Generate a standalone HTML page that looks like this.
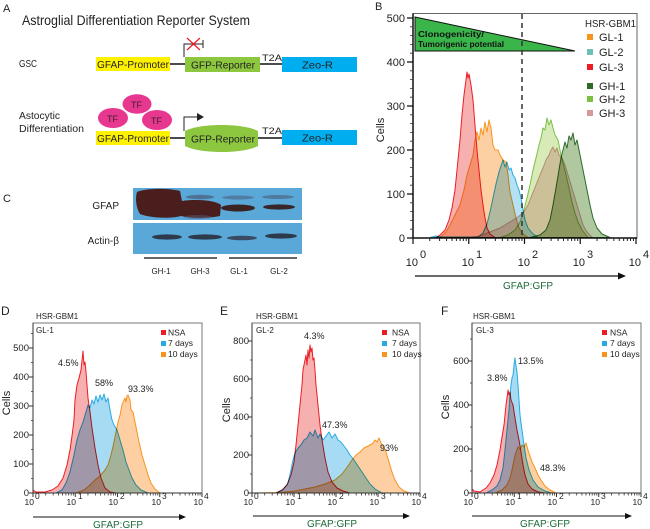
<!DOCTYPE html>
<html><head><meta charset="utf-8"><style>
html,body{margin:0;padding:0;background:#fff;}
svg{display:block;font-family:"Liberation Sans",sans-serif;}
.mb{mix-blend-mode:multiply;}
</style></head><body>
<svg width="650" height="529" viewBox="0 0 650 529" xmlns="http://www.w3.org/2000/svg">
<defs>
 <g id="mB" stroke="#222" stroke-width="1">
  <path d="M16.8,0v3M26.6,0v3M33.6,0v3M39,0v3M43.4,0v3M47.1,0v3M50.3,0v3M53.2,0v3"/>
 </g>
 <g id="mD" stroke="#333" stroke-width="0.8">
  <path d="M12.7,0v2.5M20.2,0v2.5M25.4,0v2.5M29.5,0v2.5M32.9,0v2.5M35.7,0v2.5M38.2,0v2.5M40.3,0v2.5"/>
 </g>
</defs>

<!-- ================= PANEL A ================= -->
<text x="3" y="12" font-size="11" fill="#222">A</text>
<text x="22" y="25" font-size="14" fill="#222" textLength="228" lengthAdjust="spacingAndGlyphs">Astroglial Differentiation Reporter System</text>

<text x="19" y="67" font-size="10" fill="#222" textLength="18" lengthAdjust="spacingAndGlyphs">GSC</text>
<line x1="170" y1="64" x2="185" y2="64" stroke="#111" stroke-width="1.5"/>
<line x1="260" y1="64" x2="283" y2="64" stroke="#111" stroke-width="1.5"/>
<rect x="96" y="57" width="74" height="14" fill="#fff200"/>
<text x="97" y="68" font-size="10.5" fill="#222" textLength="72" lengthAdjust="spacingAndGlyphs">GFAP-Promoter</text>
<rect x="185" y="57" width="75" height="15" fill="#8dc63f"/>
<text x="191" y="68.5" font-size="10.5" fill="#222" textLength="64" lengthAdjust="spacingAndGlyphs">GFP-Reporter</text>
<text x="262" y="61" font-size="9.5" fill="#222" textLength="20" lengthAdjust="spacingAndGlyphs">T2A</text>
<rect x="282" y="57" width="75" height="15" fill="#00aeef"/>
<text x="302" y="68.5" font-size="10.5" fill="#222" textLength="31" lengthAdjust="spacingAndGlyphs">Zeo-R</text>
<path d="M184,57V44H203M203,40V48" fill="none" stroke="#222" stroke-width="1"/>
<path d="M187,38L200,50M200,38L187,50" stroke="#ed1c24" stroke-width="1.2"/>

<text x="19" y="119" font-size="10" fill="#222" textLength="41" lengthAdjust="spacingAndGlyphs">Astocytic</text>
<text x="19" y="132" font-size="10" fill="#222" textLength="65" lengthAdjust="spacingAndGlyphs">Differentiation</text>
<ellipse cx="137" cy="104" rx="14.5" ry="9.8" fill="#e8378f"/>
<ellipse cx="113" cy="118" rx="15" ry="10" fill="#e8378f"/>
<ellipse cx="157" cy="120" rx="15" ry="10" fill="#e8378f"/>
<text x="131" y="108" font-size="9" fill="#3a2030">TF</text>
<text x="107" y="122" font-size="9" fill="#3a2030">TF</text>
<text x="151" y="124" font-size="9" fill="#3a2030">TF</text>
<line x1="170" y1="138" x2="185" y2="138" stroke="#111" stroke-width="1.5"/>
<line x1="258" y1="138" x2="283" y2="138" stroke="#111" stroke-width="1.5"/>
<rect x="96" y="131" width="74" height="14" fill="#fff200"/>
<text x="97" y="142" font-size="10.5" fill="#222" textLength="72" lengthAdjust="spacingAndGlyphs">GFAP-Promoter</text>
<path d="M185,131C200,123 243,123 258,131L258,146C243,154 200,154 185,146Z" fill="#8dc63f"/>
<text x="191" y="142.5" font-size="10.5" fill="#222" textLength="64" lengthAdjust="spacingAndGlyphs">GFP-Reporter</text>
<text x="262" y="134" font-size="9.5" fill="#222" textLength="20" lengthAdjust="spacingAndGlyphs">T2A</text>
<rect x="282" y="130" width="75" height="15" fill="#00aeef"/>
<text x="302" y="141.5" font-size="10.5" fill="#222" textLength="31" lengthAdjust="spacingAndGlyphs">Zeo-R</text>
<path d="M184,131V117H198" fill="none" stroke="#222" stroke-width="1"/>
<polygon points="197,113 204,117 197,121" fill="#222"/>

<!-- ================= PANEL C ================= -->
<text x="3" y="202" font-size="11" fill="#222">C</text>
<text x="119" y="209" font-size="10" fill="#222" text-anchor="end">GFAP</text>
<text x="119" y="244" font-size="10" fill="#222" text-anchor="end">Actin-β</text>
<rect x="133" y="188" width="169" height="32" fill="#5aa8d8"/>
<rect x="133" y="223" width="169" height="31" fill="#5aa8d8"/>
<ellipse cx="200" cy="197" rx="14" ry="2.2" fill="#4a5a78" opacity="0.7"/>
<ellipse cx="238" cy="197.5" rx="16" ry="2" fill="#4a5a78" opacity="0.55"/>
<ellipse cx="278" cy="197" rx="16" ry="2" fill="#4a5a78" opacity="0.6"/>
<path d="M137,192C145,188 170,188 180,191L182,201C195,199 215,200 221,205L220,216C205,219 190,218 181,216C170,219 150,218 140,214C136,208 135,198 137,192Z" fill="#4a1e1c"/>
<ellipse cx="198" cy="217" rx="14" ry="2" fill="#5a5a78" opacity="0.5"/>
<ellipse cx="238" cy="208" rx="17" ry="3.5" fill="#3a2320"/>
<ellipse cx="279" cy="207" rx="16" ry="2.6" fill="#3a2528"/>
<ellipse cx="167" cy="237" rx="15" ry="2.6" fill="#2c3a4c"/>
<ellipse cx="205" cy="237" rx="17" ry="2.6" fill="#2c3a4c"/>
<ellipse cx="242" cy="238" rx="15" ry="2.3" fill="#3a4a62"/>
<ellipse cx="281" cy="236" rx="16" ry="2.6" fill="#2c3a4c"/>
<line x1="144" y1="258" x2="217" y2="258" stroke="#333" stroke-width="1.5"/>
<line x1="229" y1="258" x2="297" y2="258" stroke="#333" stroke-width="1.5"/>
<g font-size="8" fill="#222" text-anchor="middle">
<text x="161" y="274">GH-1</text><text x="200" y="274">GH-3</text><text x="239" y="274">GL-1</text><text x="279" y="274">GL-2</text>
</g>

<!-- ================= PANEL B ================= -->
<text x="375" y="10" font-size="11" fill="#222">B</text>
<rect x="413" y="13.5" width="224" height="224.5" fill="none" stroke="#666" stroke-width="1"/>
<polygon points="415,17 415,51 575,51" fill="#39b54a" stroke="#111" stroke-width="1"/>
<text x="418" y="37" font-size="8" font-weight="bold" fill="#111" textLength="66" lengthAdjust="spacingAndGlyphs">Clonogenicity/</text>
<text x="418" y="47" font-size="8" font-weight="bold" fill="#111" textLength="86" lengthAdjust="spacingAndGlyphs">Tumorigenic potential</text>

<g stroke-linejoin="round" stroke-width="1">
<polygon class="mb" fill="#f6b0b0" stroke="#ed1c24" points="436,237.5 440,235 445,230 449,220 452,208 455,190 458,160 460,140 462,115 464,95 466,80 467,72 468,78 469,74 471,85 473,100 475,125 477,150 479,170 481,190 483,205 485,218 487,228 490,234 495,237.5"/>
<polygon class="mb" fill="#fdd0a4" stroke="#f7941d" points="440,237.5 446,232 450,225 455,215 460,205 464,190 467,175 470,165 473,155 475,140 477,132 479,140 481,128 483,135 485,122 487,132 489,120 491,128 493,145 495,150 498,150 500,155 503,160 506,162 508,175 510,192 513,205 516,218 519,228 523,234 528,237.5"/>
<polygon class="mb" fill="#b4e2f4" stroke="#27aae1" points="430,237.5 436,236 442,237 478,237 483,233 487,224 490,212 493,198 496,184 499,172 501,166 503,160 505,167 507,162 509,170 511,168 513,175 515,178 517,185 519,190 521,198 523,210 525,220 528,228 532,233 538,237.5"/>
<polygon class="mb" fill="#f0d2d2" stroke="#d49a9a" points="470,237.5 480,236 490,232 500,228 510,222 518,217 524,212 528,205 532,195 536,185 540,175 543,168 546,160 549,155 551,150 553,147 555,152 557,148 559,155 562,158 565,165 568,175 571,185 574,195 577,205 580,215 583,225 587,232 592,237.5"/>
<polygon class="mb" fill="#d8eab8" stroke="#7ac143" points="500,237.5 508,235 515,230 520,222 524,210 527,198 530,185 533,170 536,158 539,145 541,138 543,128 545,130 547,118 549,125 551,120 553,128 555,135 558,140 561,155 563,163 566,175 569,188 572,202 575,213 578,222 582,230 588,237.5"/>
<polygon class="mb" fill="#b0c8a0" stroke="#2d6a2a" points="530,237.5 540,235 546,230 550,220 553,205 556,188 559,170 561,158 563,150 565,142 567,148 569,136 571,140 573,133 575,145 577,140 579,150 581,160 584,175 587,190 590,205 593,218 597,228 602,234 610,237.5"/>
</g>
<line x1="522" y1="14" x2="522" y2="238" stroke="#333" stroke-width="1.5" stroke-dasharray="5,4"/>
<!-- B axes -->
<line x1="413" y1="13.5" x2="413" y2="238" stroke="#111" stroke-width="1.5"/>
<line x1="413" y1="238" x2="637" y2="238" stroke="#111" stroke-width="1.5"/>
<path d="M407,238h6M407,194h6M407,150h6M407,106h6M407,62h6M407,18h6" stroke="#111" stroke-width="1.2"/>
<path d="M410,229.2h3M410,220.4h3M410,211.6h3M410,202.8h3M410,185.2h3M410,176.4h3M410,167.6h3M410,158.8h3M410,141.2h3M410,132.4h3M410,123.6h3M410,114.8h3M410,97.2h3M410,88.4h3M410,79.6h3M410,70.8h3M410,53.2h3M410,44.4h3M410,35.6h3M410,26.8h3" stroke="#333" stroke-width="0.8"/>
<path d="M413,238v6M468.75,238v6M524.5,238v6M580.25,238v6M636,238v6" stroke="#111" stroke-width="1.2"/>
<use href="#mB" x="413" y="238"/><use href="#mB" x="468.75" y="238"/><use href="#mB" x="524.5" y="238"/><use href="#mB" x="580.25" y="238"/>
<g font-size="11" fill="#222" text-anchor="end">
<text x="405" y="242">0</text><text x="405" y="198">100</text><text x="405" y="154">200</text><text x="405" y="110">300</text><text x="405" y="66">400</text><text x="405" y="22">500</text>
</g>
<g font-size="11" fill="#222">
<text x="418" y="266" text-anchor="end">10</text><text x="420" y="258">0</text>
<text x="474" y="266" text-anchor="end">10</text><text x="476" y="258">1</text>
<text x="530" y="266" text-anchor="end">10</text><text x="532" y="258">2</text>
<text x="585" y="266" text-anchor="end">10</text><text x="587" y="258">3</text>
<text x="641" y="266" text-anchor="end">10</text><text x="643" y="258">4</text>
</g>
<text transform="translate(384,130) rotate(-90)" font-size="11" fill="#222" text-anchor="middle">Cells</text>
<line x1="415" y1="276" x2="620" y2="276" stroke="#111" stroke-width="1.2"/>
<polygon points="618,272.5 626,276 618,279.5" fill="#111"/>
<text x="528" y="289" font-size="10" fill="#1e6b3a" text-anchor="middle">GFAP:GFP</text>
<!-- B legend -->
<text x="585" y="27" font-size="10" fill="#222" textLength="51" lengthAdjust="spacingAndGlyphs">HSR-GBM1</text>
<rect x="587" y="34" width="6" height="6" fill="#f7941d"/>
<rect x="587" y="49" width="6" height="6" fill="#6dbfb8"/>
<rect x="587" y="64" width="6" height="6" fill="#ed1c24"/>
<rect x="587" y="83" width="6" height="6" fill="#2d6a2a"/>
<rect x="587" y="96" width="6" height="6" fill="#7ac143"/>
<rect x="587" y="110" width="6" height="6" fill="#d49a9a"/>
<g font-size="11" fill="#222">
<text x="599" y="41">GL-1</text><text x="599" y="56">GL-2</text><text x="599" y="71">GL-3</text>
<text x="599" y="90">GH-1</text><text x="599" y="103">GH-2</text><text x="599" y="117">GH-3</text>
</g>

<!-- ================= PANEL D ================= -->
<text x="1" y="315" font-size="12" fill="#222">D</text>
<text x="36" y="319" font-size="8" fill="#222">HSR-GBM1</text>
<rect x="33" y="323" width="169" height="170" fill="none" stroke="#777" stroke-width="1"/>
<text x="36" y="333" font-size="8" fill="#222">GL-1</text>
<g stroke-linejoin="round" stroke-width="1">
<polygon class="mb" fill="#f6b0b0" stroke="#ed1c24" points="33,490 36,492 45,492 52,490 58,486 63,478 67,465 70,450 72,436 74,420 75,400 77,385 79,378 81,370 82,360 83,351 84,365 85,362 86,372 87,385 88,398 90,412 92,428 95,448 98,465 101,478 105,488 110,492 116,493 33,493"/>
<polygon class="mb" fill="#a6dbf3" stroke="#27aae1" points="56,493 62,490 66,483 70,472 74,455 77,440 80,430 83,422 86,412 88,405 90,408 92,400 94,404 96,396 98,402 100,395 102,400 104,394 106,402 108,398 110,410 112,420 114,425 117,430 120,440 123,450 126,462 129,470 132,478 136,485 141,490 148,493"/>
<polygon class="mb" fill="#fdcfa2" stroke="#f7941d" points="76,493 84,490 90,485 95,480 100,476 105,470 108,465 111,455 114,442 116,432 118,422 120,415 122,405 124,400 125,398 126,402 127,396 128,395 130,400 131,410 133,412 135,422 137,432 139,442 142,455 145,465 148,475 151,483 155,489 160,493"/>
</g>
<line x1="33" y1="323" x2="33" y2="493" stroke="#333" stroke-width="1"/>
<line x1="33" y1="493" x2="202" y2="493" stroke="#333" stroke-width="1"/>
<path d="M29,493h4M29,464h4M29,435h4M29,406h4M29,377h4M29,348h4" stroke="#333" stroke-width="1"/>
<path d="M31,478.5h2M31,449.5h2M31,420.5h2M31,391.5h2M31,362.5h2M31,333.5h2" stroke="#333" stroke-width="0.8"/>
<path d="M33,493v4M75.25,493v4M117.5,493v4M159.75,493v4M202,493v4" stroke="#333" stroke-width="1"/>
<use href="#mD" x="33" y="493"/><use href="#mD" x="75.25" y="493"/><use href="#mD" x="117.5" y="493"/><use href="#mD" x="159.75" y="493"/>
<g font-size="9.5" fill="#222" text-anchor="end">
<text x="29" y="496">0</text><text x="29" y="467">100</text><text x="29" y="438">200</text><text x="29" y="409">300</text><text x="29" y="380">400</text><text x="29" y="351">500</text>
</g>
<g font-size="8.5" fill="#222">
<text x="34" y="505" text-anchor="end">10</text><text x="35" y="499">0</text>
<text x="76" y="505" text-anchor="end">10</text><text x="78" y="499">1</text>
<text x="118" y="505" text-anchor="end">10</text><text x="120" y="499">2</text>
<text x="161" y="505" text-anchor="end">10</text><text x="162" y="499">3</text>
<text x="203" y="505" text-anchor="end">10</text><text x="204" y="499">4</text>
</g>
<text transform="translate(10,403) rotate(-90)" font-size="11" fill="#222" text-anchor="middle">Cells</text>
<g font-size="9" fill="#222">
<text x="58" y="366">4.5%</text><text x="95" y="386">58%</text><text x="128" y="392">93.3%</text>
</g>
<rect x="161" y="330" width="5" height="5" fill="#ed1c24"/>
<rect x="161" y="341" width="5" height="5" fill="#27aae1"/>
<rect x="161" y="352" width="5" height="5" fill="#f7941d"/>
<g font-size="8.5" fill="#222"><text x="168" y="335.5">NSA</text><text x="168" y="346">7 days</text><text x="168" y="357">10 days</text></g>
<line x1="33" y1="517" x2="180" y2="517" stroke="#111" stroke-width="1"/>
<polygon points="179,514 186,517 179,520" fill="#111"/>
<text x="118" y="528" font-size="10" fill="#1e6b3a" text-anchor="middle">GFAP:GFP</text>

<!-- ================= PANEL E ================= -->
<text x="220" y="315" font-size="12" fill="#222">E</text>
<text x="256" y="319" font-size="8" fill="#222">HSR-GBM1</text>
<rect x="252" y="323" width="168" height="170" fill="none" stroke="#777" stroke-width="1"/>
<text x="256" y="333" font-size="8" fill="#222">GL-2</text>
<g stroke-linejoin="round" stroke-width="1">
<polygon class="mb" fill="#f6b0b0" stroke="#ed1c24" points="276,493 282,490 287,485 291,475 294,462 296,445 298,425 300,405 302,385 303,370 305,360 306,355 307,365 308,350 309,358 310,345 311,352 312,348 313,360 314,358 315,370 316,385 318,405 320,425 322,440 325,458 328,472 332,482 337,488 343,491 350,493"/>
<polygon class="mb" fill="#a6dbf3" stroke="#27aae1" points="276,493 283,490 288,483 291,470 293,460 295,453 298,448 301,445 304,440 307,438 310,432 313,436 315,430 318,438 320,434 323,440 326,436 329,432 332,438 335,434 338,440 341,442 344,446 347,450 350,455 354,460 358,466 362,472 366,478 370,484 375,489 382,493"/>
<polygon class="mb" fill="#fdcfa2" stroke="#f7941d" points="252,493 280,492.5 295,491 305,489 315,487 325,484 335,480 342,474 348,466 352,460 356,455 360,452 364,448 368,446 372,444 375,440 377,442 379,438 381,443 383,446 386,452 389,462 392,472 395,480 399,487 404,491 410,493"/>
</g>
<line x1="252" y1="323" x2="252" y2="493" stroke="#333" stroke-width="1"/>
<line x1="252" y1="493" x2="420" y2="493" stroke="#333" stroke-width="1"/>
<path d="M248,493h4M248,455h4M248,417h4M248,379h4M248,341h4" stroke="#333" stroke-width="1"/>
<path d="M250,474h2M250,436h2M250,398h2M250,360h2" stroke="#333" stroke-width="0.8"/>
<path d="M252,493v4M294,493v4M336,493v4M378,493v4M420,493v4" stroke="#333" stroke-width="1"/>
<use href="#mD" x="252" y="493"/><use href="#mD" x="294" y="493"/><use href="#mD" x="336" y="493"/><use href="#mD" x="378" y="493"/>
<g font-size="9.5" fill="#222" text-anchor="end">
<text x="249" y="496">0</text><text x="249" y="458">200</text><text x="249" y="420">400</text><text x="249" y="382">600</text><text x="249" y="344">800</text>
</g>
<g font-size="8.5" fill="#222">
<text x="253" y="505" text-anchor="end">10</text><text x="254" y="499">0</text>
<text x="295" y="505" text-anchor="end">10</text><text x="297" y="499">1</text>
<text x="337" y="505" text-anchor="end">10</text><text x="339" y="499">2</text>
<text x="379" y="505" text-anchor="end">10</text><text x="381" y="499">3</text>
<text x="421" y="505" text-anchor="end">10</text><text x="422" y="499">4</text>
</g>
<text transform="translate(230,410) rotate(-90)" font-size="11" fill="#222" text-anchor="middle">Cells</text>
<g font-size="9" fill="#222">
<text x="304" y="339">4.3%</text><text x="322" y="428">47.3%</text><text x="380" y="451">93%</text>
</g>
<rect x="382" y="330" width="5" height="5" fill="#ed1c24"/>
<rect x="382" y="341" width="5" height="5" fill="#27aae1"/>
<rect x="382" y="352" width="5" height="5" fill="#f7941d"/>
<g font-size="8.5" fill="#222"><text x="392" y="335.5">NSA</text><text x="392" y="346">7 days</text><text x="392" y="357">10 days</text></g>
<line x1="253" y1="516" x2="404" y2="516" stroke="#111" stroke-width="1"/>
<polygon points="403,513 410,516 403,519" fill="#111"/>
<text x="332" y="527" font-size="10" fill="#1e6b3a" text-anchor="middle">GFAP:GFP</text>

<!-- ================= PANEL F ================= -->
<text x="441" y="315" font-size="12" fill="#222">F</text>
<text x="473" y="319" font-size="8" fill="#222">HSR-GBM1</text>
<rect x="472" y="323" width="169" height="170" fill="none" stroke="#777" stroke-width="1"/>
<text x="476" y="333" font-size="8" fill="#222">GL-3</text>
<g stroke-linejoin="round" stroke-width="1">
<polygon class="mb" fill="#f6b0b0" stroke="#ed1c24" points="472,489 474,491 480,492 486,488 490,483 494,475 497,465 500,450 502,437 504,425 506,405 507,398 508,390 509,395 510,392 511,400 513,405 515,418 517,430 519,440 521,452 523,465 525,475 528,484 532,489 538,492 545,493 472,493"/>
<polygon class="mb" fill="#a6dbf3" stroke="#27aae1" points="486,493 492,490 497,486 500,480 503,468 505,450 507,430 509,410 510,395 511,385 512,378 513,375 514,365 515,358 516,366 517,372 518,385 519,400 520,415 522,430 524,445 526,458 529,470 533,480 538,487 545,491 552,493"/>
<polygon class="mb" fill="#fdcfa2" stroke="#f7941d" points="495,493 502,490 507,485 510,478 512,470 514,460 516,452 518,447 520,449 522,445 524,447 526,443 528,450 530,456 532,462 535,468 538,475 541,480 545,486 550,490 556,493 640,493"/>
</g>
<line x1="472" y1="323" x2="472" y2="493" stroke="#333" stroke-width="1"/>
<line x1="472" y1="493" x2="641" y2="493" stroke="#333" stroke-width="1"/>
<path d="M468,493h4M468,449h4M468,405h4M468,361h4" stroke="#333" stroke-width="1"/>
<path d="M470,471h2M470,427h2M470,383h2M470,339h2" stroke="#333" stroke-width="0.8"/>
<path d="M472,493v4M514.25,493v4M556.5,493v4M598.75,493v4M641,493v4" stroke="#333" stroke-width="1"/>
<use href="#mD" x="472" y="493"/><use href="#mD" x="514.25" y="493"/><use href="#mD" x="556.5" y="493"/><use href="#mD" x="598.75" y="493"/>
<g font-size="9.5" fill="#222" text-anchor="end">
<text x="469" y="496">0</text><text x="469" y="452">200</text><text x="469" y="408">400</text><text x="469" y="364">600</text>
</g>
<g font-size="8.5" fill="#222">
<text x="473" y="505" text-anchor="end">10</text><text x="474" y="499">0</text>
<text x="515" y="505" text-anchor="end">10</text><text x="517" y="499">1</text>
<text x="557" y="505" text-anchor="end">10</text><text x="559" y="499">2</text>
<text x="600" y="505" text-anchor="end">10</text><text x="601" y="499">3</text>
<text x="642" y="505" text-anchor="end">10</text><text x="643" y="499">4</text>
</g>
<text transform="translate(449,407) rotate(-90)" font-size="11" fill="#222" text-anchor="middle">Cells</text>
<g font-size="9" fill="#222">
<text x="487" y="381">3.8%</text><text x="518" y="364">13.5%</text><text x="540" y="471">48.3%</text>
</g>
<rect x="602" y="330" width="5" height="5" fill="#ed1c24"/>
<rect x="602" y="341" width="5" height="5" fill="#27aae1"/>
<rect x="602" y="352" width="5" height="5" fill="#f7941d"/>
<g font-size="8.5" fill="#222"><text x="610" y="335.5">NSA</text><text x="610" y="346">7 days</text><text x="610" y="357">10 days</text></g>
<line x1="472" y1="516" x2="626" y2="516" stroke="#111" stroke-width="1"/>
<polygon points="625,513 632,516 625,519" fill="#111"/>
<text x="545" y="527" font-size="10" fill="#1e6b3a" text-anchor="middle">GFAP:GFP</text>
</svg>
</body></html>
